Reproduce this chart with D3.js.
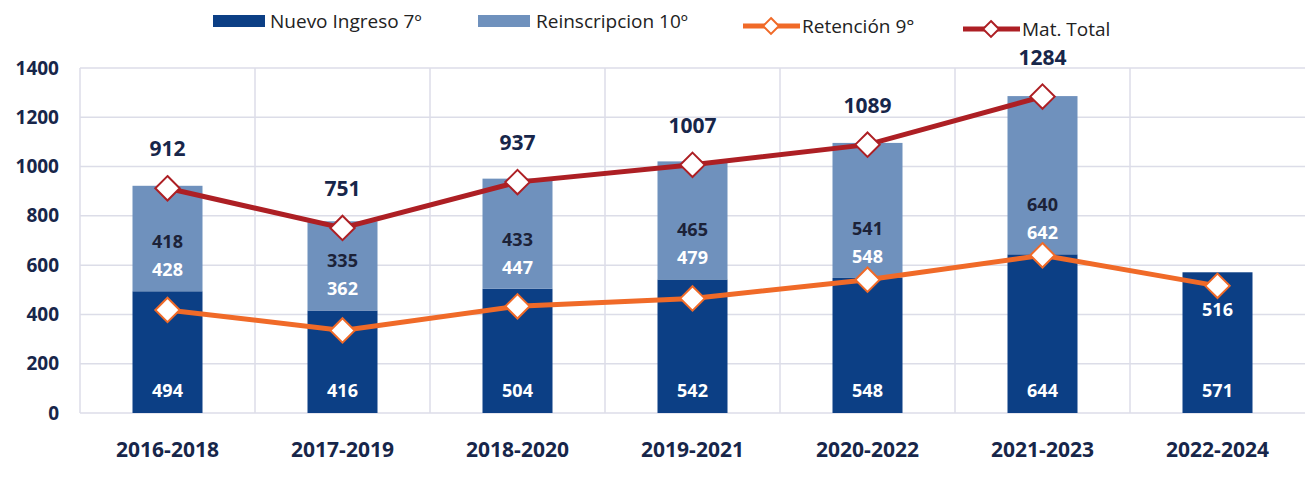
<!DOCTYPE html>
<html>
<head>
<meta charset="utf-8">
<script src="https://cdn.jsdelivr.net/npm/d3@7"></script>
<style>
  body { margin: 0; background: #fff; }
  text { font-family: "Open Sans", sans-serif; }
</style>
</head>
<body>
<div class="chart"></div>
<script>
// data
const periods = ["2016-2018", "2017-2019", "2018-2020", "2019-2021", "2020-2022", "2021-2023", "2022-2024"]
const nuevoIngreso = [494, 416, 504, 542, 548, 644, 571]
const reinscripcion = [428, 362, 447, 479, 548, 642, null]
const retencion = [418, 335, 433, 465, 541, 640, 516]
const matTotal = [912, 751, 937, 1007, 1089, 1284, null]
const yTicks = [0, 200, 400, 600, 800, 1000, 1200, 1400]

const width = 1307
const height = 477
const margin = {top: 68, right: 2, bottom: 64, left: 80}

const darkBlue = "#0c3f85"
const lightBlue = "#6f91bd"
const orange = "#f06a28"
const darkRed = "#ad1f24"
const navyText = "#17264a"

let svg = d3.select(".chart")
    .append("svg")
    .attr("width", width)
    .attr("height", height)

let x = d3.scaleBand()
    .domain(periods)
    .range([margin.left, width - margin.right])
    .paddingInner(0.6)
    .paddingOuter(0.3)

let xEdge = d3.scaleBand()
    .domain(periods)
    .range([margin.left, width - margin.right])

let y = d3.scaleLinear()
    .domain([0, 1400])
    .range([height - margin.bottom, margin.top])

// gridlines
svg.append("g")
    .selectAll("line")
    .data(yTicks)
    .enter()
    .append("line")
    .attr("x1", margin.left)
    .attr("x2", width - margin.right)
    .attr("y1", d => y(d))
    .attr("y2", d => y(d))
    .attr("stroke", "#dcdde8")
    .attr("stroke-width", 1.5)

svg.append("g")
    .selectAll("line")
    .data(periods)
    .enter()
    .append("line")
    .attr("x1", d => xEdge(d))
    .attr("x2", d => xEdge(d))
    .attr("y1", y(1400))
    .attr("y2", y(0))
    .attr("stroke", "#dcdde8")
    .attr("stroke-width", 1.5)

// y axis
let yAxis = svg.append("g")
    .attr("transform", "translate(" + (margin.left - 21) + ",0)")
    .call(d3.axisLeft(y).tickValues(yTicks).tickFormat(d3.format("d")).tickSize(0).tickPadding(0))
yAxis.select(".domain").remove()
yAxis.selectAll("text")
    .style("font-size", "19px")
    .style("font-weight", "bold")
    .attr("fill", navyText)

// x axis
let xAxis = svg.append("g")
    .attr("transform", "translate(0," + y(0) + ")")
    .call(d3.axisBottom(x).tickSize(0).tickPadding(29))
xAxis.select(".domain").remove()
xAxis.selectAll("text")
    .style("font-size", "21px")
    .style("font-weight", "bold")
    .attr("fill", navyText)

// bars
svg.append("g")
    .selectAll("rect")
    .data(periods)
    .enter()
    .append("rect")
    .attr("x", d => x(d))
    .attr("width", x.bandwidth())
    .attr("y", (d, i) => y(nuevoIngreso[i]))
    .attr("height", (d, i) => y(0) - y(nuevoIngreso[i]))
    .attr("fill", darkBlue)

svg.append("g")
    .selectAll("rect")
    .data(periods.filter((d, i) => reinscripcion[i] != null))
    .enter()
    .append("rect")
    .attr("x", d => x(d))
    .attr("width", x.bandwidth())
    .attr("y", d => {
        let i = periods.indexOf(d)
        return y(nuevoIngreso[i] + reinscripcion[i])
    })
    .attr("height", d => {
        let i = periods.indexOf(d)
        return y(nuevoIngreso[i]) - y(nuevoIngreso[i] + reinscripcion[i])
    })
    .attr("fill", lightBlue)

// lines
let diamond = d3.symbol().type(d3.symbolDiamond2).size(380)

function drawLine(values, color) {
    let pts = periods.map((d, i) => [d, values[i]]).filter(p => p[1] != null)
    let line = d3.line()
        .x(p => x(p[0]) + x.bandwidth() / 2)
        .y(p => y(p[1]))
    svg.append("path")
        .datum(pts)
        .attr("d", line)
        .attr("fill", "none")
        .attr("stroke", color)
        .attr("stroke-width", 5)
    svg.append("g")
        .selectAll("path")
        .data(pts)
        .enter()
        .append("path")
        .attr("d", diamond)
        .attr("transform", p => "translate(" + (x(p[0]) + x.bandwidth() / 2) + "," + y(p[1]) + ")")
        .attr("fill", "#fff")
        .attr("stroke", color)
        .attr("stroke-width", 2)
}
drawLine(retencion, orange)
drawLine(matTotal, darkRed)

// labels
let cx = d => x(d) + x.bandwidth() / 2

svg.append("g")
    .selectAll("text")
    .data(periods)
    .enter()
    .append("text")
    .attr("x", cx)
    .attr("y", d => y(0) - 16)
    .attr("text-anchor", "middle")
    .style("font-size", "18px")
    .style("font-weight", "bold")
    .attr("fill", "#fff")
    .text((d, i) => nuevoIngreso[i])

svg.append("g")
    .selectAll("text")
    .data(periods.filter((d, i) => reinscripcion[i] != null))
    .enter()
    .append("text")
    .attr("x", cx)
    .attr("y", d => y(nuevoIngreso[periods.indexOf(d)]) - 15)
    .attr("text-anchor", "middle")
    .style("font-size", "18px")
    .style("font-weight", "bold")
    .attr("fill", "#fff")
    .text(d => reinscripcion[periods.indexOf(d)])

svg.append("g")
    .selectAll("text")
    .data(periods)
    .enter()
    .append("text")
    .attr("x", cx)
    .attr("y", (d, i) => reinscripcion[i] != null ? y(nuevoIngreso[i]) - 43 : y(retencion[i]) + 30)
    .attr("text-anchor", "middle")
    .style("font-size", "18px")
    .style("font-weight", "bold")
    .attr("fill", (d, i) => reinscripcion[i] != null ? "#1c2238" : "#fff")
    .text((d, i) => retencion[i])

svg.append("g")
    .selectAll("text")
    .data(periods.filter((d, i) => matTotal[i] != null))
    .enter()
    .append("text")
    .attr("x", cx)
    .attr("y", d => y(matTotal[periods.indexOf(d)]) - 32)
    .attr("text-anchor", "middle")
    .style("font-size", "21px")
    .style("font-weight", "bold")
    .attr("fill", navyText)
    .text(d => matTotal[periods.indexOf(d)])

// legend
let legend = svg.append("g")
legend.append("rect").attr("x", 213).attr("y", 15).attr("width", 52).attr("height", 12).attr("fill", darkBlue)
legend.append("text").attr("x", 270).attr("y", 28).style("font-size", "19px").attr("fill", "#222").text("Nuevo Ingreso 7º")
legend.append("rect").attr("x", 478).attr("y", 15).attr("width", 52).attr("height", 12).attr("fill", lightBlue)
legend.append("text").attr("x", 536).attr("y", 28).style("font-size", "19px").attr("fill", "#222").text("Reinscripcion 10º")

let lineItems = [["Retención 9°", orange, 743, 26], ["Mat. Total", darkRed, 963, 29]]
lineItems.forEach(item => {
    let g = legend.append("g")
    g.append("line").attr("x1", item[2]).attr("x2", item[2] + 57).attr("y1", item[3]).attr("y2", item[3])
        .attr("stroke", item[1]).attr("stroke-width", 5)
    g.append("path").attr("d", d3.symbol().type(d3.symbolDiamond2).size(160))
        .attr("transform", "translate(" + (item[2] + 28) + "," + item[3] + ")")
        .attr("fill", "#fff").attr("stroke", item[1]).attr("stroke-width", 2)
    g.append("text").attr("x", item[2] + 59).attr("y", item[3] + 7).style("font-size", "19px").attr("fill", "#222").text(item[0])
})
</script>
</body>
</html>
